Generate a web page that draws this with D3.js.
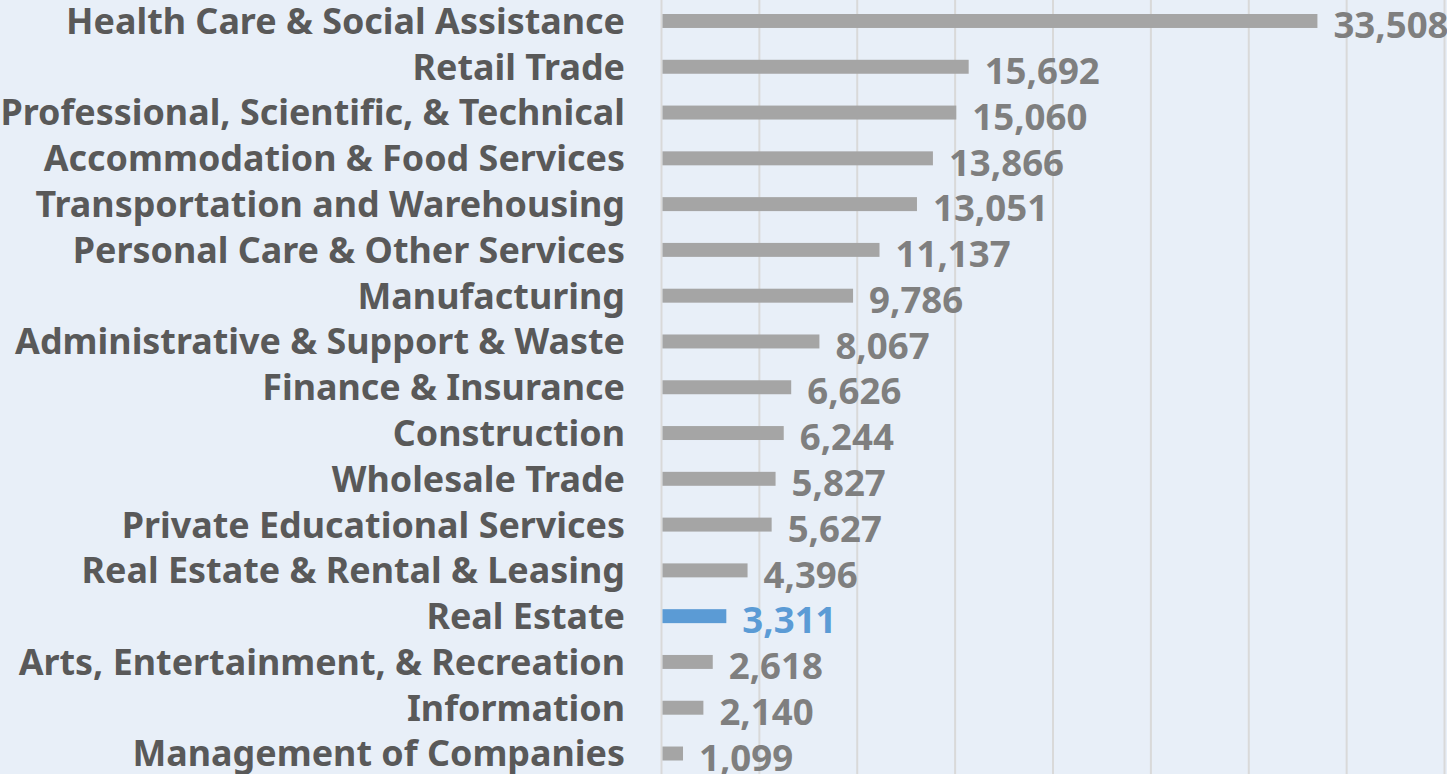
<!DOCTYPE html>
<html><head><meta charset="utf-8">
<script src="https://cdn.jsdelivr.net/npm/d3@7"></script>
<style>
html,body{margin:0;padding:0;background:#e8eff8;}
svg{display:block;}
</style></head>
<body>
<svg id="chart" width="1447" height="774"></svg>
<script>
const categories = ["Health Care & Social Assistance","Retail Trade","Professional, Scientific, & Technical","Accommodation & Food Services","Transportation and Warehousing","Personal Care & Other Services","Manufacturing","Administrative & Support & Waste","Finance & Insurance","Construction","Wholesale Trade","Private Educational Services","Real Estate & Rental & Leasing","Real Estate","Arts, Entertainment, & Recreation","Information","Management of Companies"];
const values = [33508,15692,15060,13866,13051,11137,9786,8067,6626,6244,5827,5627,4396,3311,2618,2140,1099];
const highlight = ["Real Estate"];
const xTicks = [0,5000,10000,15000,20000,25000,30000,35000,40000];

const W = 1447, H = 774;
const svg = d3.select("#chart");
svg.append("rect").attr("width",W).attr("height",H).attr("fill","#e8eff8");

const x = d3.scaleLinear().domain([0,40000]).range([661.5,1444.5]);
const y = d3.scaleBand().domain(categories).range([-1.9,776.4]).paddingInner(0.695).paddingOuter(0.3475);

const font = "'Century Gothic','URW Gothic','Noto Sans','Open Sans',sans-serif";

svg.append("g").selectAll("line").data(xTicks).join("line")
  .attr("x1",d=>x(d)).attr("x2",d=>x(d)).attr("y1",0).attr("y2",H)
  .attr("stroke","#d9d9d9").attr("stroke-width",2);

const data = categories.map((c,i)=>({c, v:values[i], hi: highlight.includes(c)}));

svg.append("g").selectAll("rect").data(data).join("rect")
  .attr("x",x(0)+1).attr("y",d=>y(d.c)).attr("height",y.bandwidth())
  .attr("width",d=>x(d.v)-x(0)-1)
  .attr("fill",d=>d.hi?"#5b9bd5":"#a5a5a5");

const fmt = d3.format(",");
const labels = svg.append("g").selectAll("text").data(data).join("text")
  .attr("x",625).attr("y",d=>y(d.c)+y.bandwidth()/2)
  .attr("dy","0.36em").attr("text-anchor","end")
  .attr("font-family",font).attr("font-weight","bold").attr("font-size",33)
  .attr("fill","#595959").text(d=>d.c);
// fit longest label to reference width
let maxw = 0; labels.each(function(){maxw=Math.max(maxw,this.getComputedTextLength());});
const fs = 33*625/maxw;
labels.attr("font-size",fs);

const vals = svg.append("g").selectAll("text").data(data).join("text")
  .attr("x",d=>x(d.v)+16).attr("y",d=>y(d.c)+y.bandwidth()/2+4)
  .attr("dy","0.36em")
  .attr("font-family",font).attr("font-weight","bold").attr("font-size",fs*1.02)
  .attr("fill",d=>d.hi?"#5b9bd5":"#7f7f7f").text(d=>fmt(d.v));
</script>
</body></html>
